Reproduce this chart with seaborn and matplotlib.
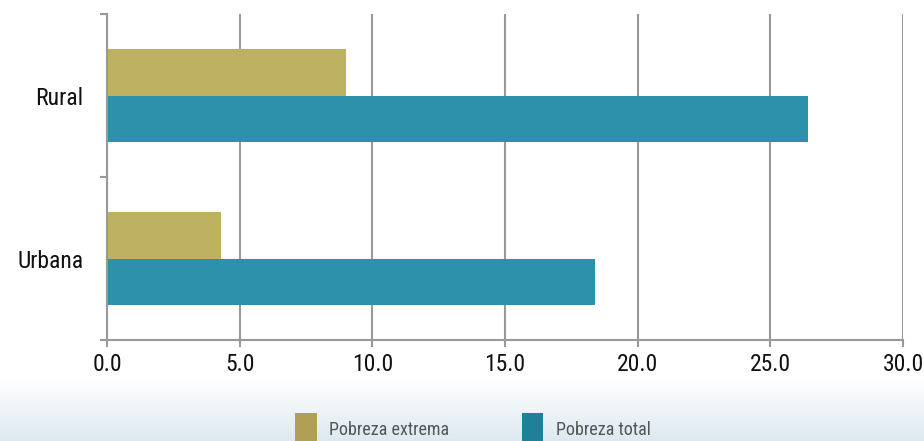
import numpy as np
import pandas as pd
import matplotlib
matplotlib.use('Agg')
import matplotlib.pyplot as plt
from matplotlib.colors import LinearSegmentedColormap
import seaborn as sns

categorias = ['Rural', 'Urbana']
series = ['Pobreza extrema', 'Pobreza total']
pobreza_extrema = [9.0, 4.3]
pobreza_total = [26.4, 18.4]
x_ticks = [0, 5, 10, 15, 20, 25, 30]

df = pd.DataFrame({
    'area': categorias * 2,
    'serie': [series[0]] * 2 + [series[1]] * 2,
    'valor': pobreza_extrema + pobreza_total,
})

sns.set_theme(style='white')
plt.rcParams['font.family'] = ['Roboto Condensed', 'Liberation Sans Narrow',
                               'Liberation Sans', 'DejaVu Sans']

fig = plt.figure(figsize=(9.24, 4.41), dpi=100)

# light gradient band behind the legend
bg = fig.add_axes([0, 0, 1, 0.14])
grad = np.linspace(0, 1, 100).reshape(-1, 1)
cmap = LinearSegmentedColormap.from_list('bg', ['#dde9f0', '#ffffff'])
bg.imshow(grad, aspect='auto', cmap=cmap, origin='lower', extent=[0, 1, 0, 1])
bg.axis('off')

ax = fig.add_axes([0.1158, 0.229, 0.8615, 0.739])
sns.barplot(data=df, y='area', x='valor', hue='serie', orient='h',
            palette=['#bdb162', '#2e91ab'], width=0.57, saturation=1,
            linewidth=0, ax=ax)

ax.set_xlim(0, 30)
ax.set_ylim(1.5, -0.5)
ax.set_xticks(x_ticks)
ax.set_xticklabels([f'{t:.1f}' for t in x_ticks])
ax.set_yticks([-0.5, 0.5, 1.5], minor=True)
ax.set_xlabel('')
ax.set_ylabel('')

ax.xaxis.grid(True, color='#999999', linewidth=1.5)
ax.set_axisbelow(True)
for s in ['top', 'right']:
    ax.spines[s].set_visible(False)
for s in ['left', 'bottom']:
    ax.spines[s].set_color('#999999')
    ax.spines[s].set_linewidth(1.5)

ax.tick_params(axis='x', which='major', bottom=True, length=5, width=1.5,
               color='#999999', labelsize=17, pad=4, labelcolor='#111111')
ax.tick_params(axis='y', which='major', left=False, length=0, labelsize=17,
               pad=17, labelcolor='#111111')
ax.tick_params(axis='y', which='minor', left=True, length=5, width=1.5,
               color='#999999')

ax.get_legend().remove()
handles, labels = ax.get_legend_handles_labels()
leg = fig.legend(handles, labels, loc='lower center', bbox_to_anchor=(0.512, -0.03),
                 ncol=2, frameon=False, fontsize=13, handlelength=1.2,
                 handleheight=2.35, handletextpad=0.7, columnspacing=4.0,
                 borderpad=0)
for h, c in zip(leg.legend_handles, ['#b0a055', '#1f8099']):
    h.set_facecolor(c)
    h.set_edgecolor(c)
for t in leg.get_texts():
    t.set_color('#555555')

fig.savefig('out.png', dpi=100)
